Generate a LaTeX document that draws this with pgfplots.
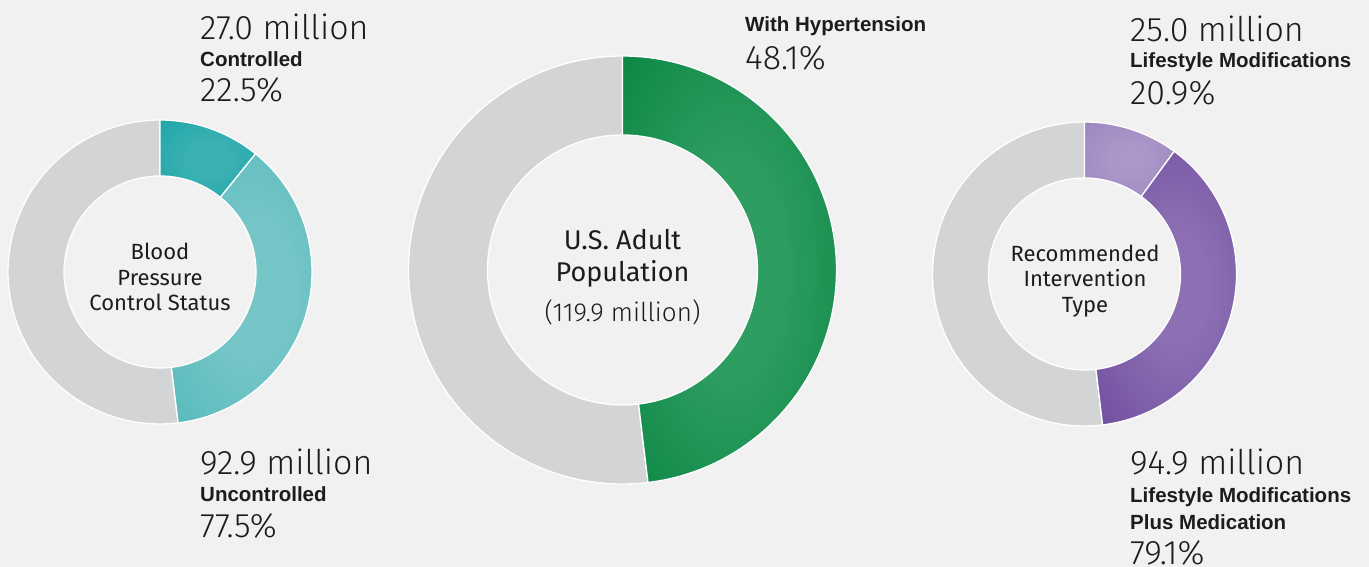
\documentclass[border=0pt]{standalone}
\usepackage{pgfplots}
\usepackage{pgfplotstable}
\pgfplotsset{compat=1.18}
\usepackage{fontspec}
\setmainfont{Fira Sans}
\newfontfamily\lightf{Fira Sans Light}
\newfontfamily\labf{Liberation Sans}

\definecolor{bg}{HTML}{F1F1F1}
\definecolor{ringgray}{HTML}{D3D4D6}
\definecolor{txt}{HTML}{1C1C1C}
\definecolor{tdL}{HTML}{3CB1B3}\definecolor{tdD}{HTML}{12A2A5}
\definecolor{tlL}{HTML}{76C6C7}\definecolor{tlD}{HTML}{4CB5B7}
\definecolor{gL}{HTML}{2E9D62}\definecolor{gD}{HTML}{05833E}
\definecolor{plL}{HTML}{AB97C8}\definecolor{plD}{HTML}{987FBD}
\definecolor{pdL}{HTML}{8C70B3}\definecolor{pdD}{HTML}{6A469B}

\pgfdeclareradialshading{tdglow}{\pgfpointorigin}{color(0bp)=(tdL); color(10bp)=(tdL); color(46bp)=(tdD); color(72bp)=(tdD)}
\pgfdeclareradialshading{tlglow}{\pgfpointorigin}{color(0bp)=(tlL); color(12bp)=(tlL); color(46bp)=(tlD); color(72bp)=(tlD)}
\pgfdeclareradialshading{gglow}{\pgfpointorigin}{color(0bp)=(gL); color(12bp)=(gL); color(40bp)=(gD); color(72bp)=(gD)}
\pgfdeclareradialshading{plglow}{\pgfpointorigin}{color(0bp)=(plL); color(10bp)=(plL); color(46bp)=(plD); color(72bp)=(plD)}
\pgfdeclareradialshading{pdglow}{\pgfpointorigin}{color(0bp)=(pdL); color(10bp)=(pdL); color(42bp)=(pdD); color(72bp)=(pdD)}

\pgfplotstableread{
name          value
hypertension  48.1
controlled    22.5
uncontrolled  77.5
lifestyle     20.9
lifemed       79.1
}\donutdata
\pgfplotstablegetelem{0}{value}\of\donutdata \let\vHyper\pgfplotsretval
\pgfplotstablegetelem{1}{value}\of\donutdata \let\vCtrl\pgfplotsretval
\pgfplotstablegetelem{3}{value}\of\donutdata \let\vLife\pgfplotsretval
\pgfmathsetmacro\aEnd{90-3.6*\vHyper}
\pgfmathsetmacro\aTeal{90-3.6*\vHyper*\vCtrl/100}
\pgfmathsetmacro\aPurp{90-3.6*\vHyper*\vLife/100}
\pgfmathsetmacro\aFull{-270}

% #1 style, #2 cx, #3 cy, #4 r out, #5 r in, #6 start angle, #7 end angle
\newcommand\ring[7]{%
  \path[#1] (axis cs:{#2+#4*cos(#6)},{#3+#4*sin(#6)})
    arc[start angle=#6, end angle=#7, radius=#4pt]
    -- (axis cs:{#2+#5*cos(#7)},{#3+#5*sin(#7)})
    arc[start angle=#7, end angle=#6, radius=#5pt] -- cycle;}

\tikzset{
  seg/.style={draw=white, line width=1.3pt, line join=round},
  big/.style={anchor=base west, inner sep=0pt, text=txt, font=\lightf\fontsize{34}{36}\selectfont},
  lab/.style={anchor=base west, inner sep=0pt, text=txt, font=\labf\bfseries\fontsize{20.5}{22}\selectfont},
  ctr/.style={anchor=base, inner sep=0pt, text=txt, font=\fontsize{22}{24}\selectfont},
}

\begin{document}
\begin{tikzpicture}
\begin{axis}[
  x=1pt, y=1pt, xmin=0, xmax=1369, ymin=0, ymax=567,
  hide axis, clip=false, scale only axis,
]
\fill[bg] (axis cs:0,0) rectangle (axis cs:1369,567);

% left donut
\ring{fill=ringgray, seg}{160}{295}{152}{96}{\aEnd}{\aFull}
\ring{shade, shading=tdglow, seg}{160}{295}{152}{96}{90}{\aTeal}
\ring{shade, shading=tlglow, seg}{160}{295}{152}{96}{\aTeal}{\aEnd}

% middle donut
\ring{fill=ringgray, seg}{622.5}{297}{214}{135}{\aEnd}{\aFull}
\ring{shade, shading=gglow, seg}{622.5}{297}{214}{135}{90}{\aEnd}

% right donut
\ring{fill=ringgray, seg}{1084.5}{293}{152}{96}{\aEnd}{\aFull}
\ring{shade, shading=plglow, seg}{1084.5}{293}{152}{96}{90}{\aPurp}
\ring{shade, shading=pdglow, seg}{1084.5}{293}{152}{96}{\aPurp}{\aEnd}

% labels left
\node[big] at (axis cs:200,527) {27.0 million};
\node[lab] at (axis cs:200,500) {Controlled};
\node[big] at (axis cs:200,465) {22.5\%};
\node[big] at (axis cs:200,92) {92.9 million};
\node[lab] at (axis cs:200,65) {Uncontrolled};
\node[big] at (axis cs:200,29) {77.5\%};

% labels middle
\node[lab] at (axis cs:745,535) {With Hypertension};
\node[big] at (axis cs:745,497) {48.1\%};

% labels right
\node[big] at (axis cs:1130,525) {25.0 million};
\node[lab] at (axis cs:1130,499) {Lifestyle Modifications};
\node[big] at (axis cs:1130,462) {20.9\%};
\node[big] at (axis cs:1130,92) {94.9 million};
\node[lab] at (axis cs:1130,64) {Lifestyle Modifications};
\node[lab] at (axis cs:1130,37) {Plus Medication};
\node[big] at (axis cs:1130,2) {79.1\%};

% centre texts
\node[ctr] at (axis cs:160,307) {Blood};
\node[ctr] at (axis cs:160,281) {Pressure};
\node[ctr] at (axis cs:160,256) {Control Status};
\node[ctr] at (axis cs:1085,305) {Recommended};
\node[ctr] at (axis cs:1085,280) {Intervention};
\node[ctr] at (axis cs:1085,254) {Type};
\node[ctr, font=\fontsize{27}{30}\selectfont] at (axis cs:622.5,317) {U.S. Adult};
\node[ctr, font=\fontsize{27}{30}\selectfont] at (axis cs:622.5,285) {Population};
\node[ctr, font=\lightf\fontsize{26}{28}\selectfont] at (axis cs:622.5,245) {(119.9 million)};
\end{axis}
\pgfresetboundingbox
\path (current axis.south west) rectangle (current axis.north east);
\end{tikzpicture}
\end{document}
